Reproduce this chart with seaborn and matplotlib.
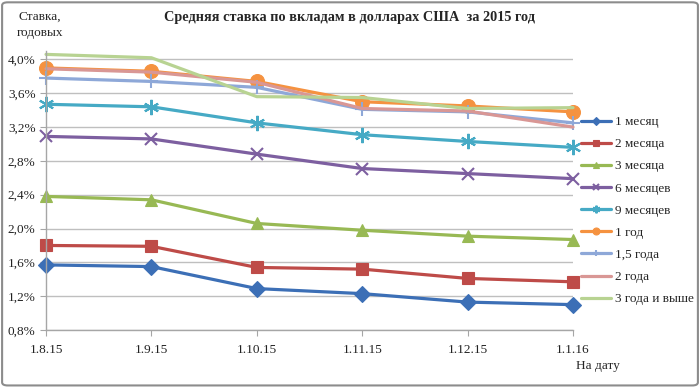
import numpy as np
import pandas as pd
import matplotlib
matplotlib.use('Agg')
import matplotlib.pyplot as plt
import seaborn as sns
from matplotlib.patches import FancyBboxPatch
from matplotlib.ticker import FuncFormatter

# Data (% per year)
dates = ['1.8.15', '1.9.15', '1.10.15', '1.11.15', '1.12.15', '1.1.16']
m1 = [1.57, 1.55, 1.29, 1.23, 1.13, 1.10]
m2 = [1.80, 1.79, 1.54, 1.52, 1.41, 1.37]
m3 = [2.38, 2.34, 2.06, 1.98, 1.91, 1.87]
m6 = [3.09, 3.06, 2.88, 2.71, 2.65, 2.59]
m9 = [3.47, 3.44, 3.25, 3.11, 3.03, 2.96]
y1 = [3.90, 3.86, 3.74, 3.50, 3.45, 3.38]
y15 = [3.78, 3.74, 3.67, 3.41, 3.38, 3.25]
y2 = [3.89, 3.85, 3.73, 3.42, 3.39, 3.20]
y3 = [4.06, 4.02, 3.56, 3.55, 3.42, 3.43]

series_names = ['1 месяц', '2 месяца', '3 месяца', '6 месяцев', '9 месяцев',
                '1 год', '1,5 года', '2 года', '3 года и выше']
series_vals = [m1, m2, m3, m6, m9, y1, y15, y2, y3]

colors = ['#3C6FB6', '#BE4B48', '#98B954', '#7D5FA0', '#46AAC5',
          '#F59240', '#8EA8D8', '#D99795', '#B8D392']
markers = ['D', 's', '^', 'x', (6, 2, 0), 'o', '+', None, None]
msizes = [8, 9, 9, 9, 11, 10, 10, 0, 0]

sns.set_style('white')
plt.rcParams['font.family'] = ['Liberation Serif', 'DejaVu Serif']

fig = plt.figure(figsize=(7, 3.87), dpi=100)
ax = fig.add_axes([46 / 700, 1 - 330 / 387, (573 - 46) / 700, (330 - 51) / 387])

xpos = np.arange(len(dates))
for name, vals, c, mk, ms in zip(series_names, series_vals, colors, markers, msizes):
    df = pd.DataFrame({'x': xpos, 'y': vals})
    kw = dict(marker=mk, markersize=ms, markeredgewidth=1.5 if mk in ('x', '+', (6, 2, 0)) else 0.8,
              markeredgecolor=c) if mk is not None else {}
    sns.lineplot(data=df, x='x', y='y', ax=ax, color=c, linewidth=2.3, label=name, **kw)

for ln in ax.lines:
    ln.set_clip_on(False)

ax.set_xlim(0, len(dates) - 1)
ax.set_ylim(0.8, 4.1)
ax.set_yticks([0.8, 1.2, 1.6, 2.0, 2.4, 2.8, 3.2, 3.6, 4.0])
ax.yaxis.set_major_formatter(FuncFormatter(lambda v, p: f'{v:.1f}%'.replace('.', ',')))
ax.set_xticks(xpos)
ax.set_xticklabels(dates)
ax.set_xlabel('')
ax.set_ylabel('')
ax.grid(axis='y', color='#BFBFBF', linewidth=1)
ax.set_axisbelow(True)
for s in ['top', 'right']:
    ax.spines[s].set_visible(False)
for s in ['left', 'bottom']:
    ax.spines[s].set_color('#A6A6A6')
    ax.spines[s].set_linewidth(1)
ax.tick_params(axis='both', labelsize=9.5, colors='#222222', length=4, direction='out',
               color='#A6A6A6', left=True, bottom=True)
ax.tick_params(axis='x', pad=6)

leg = ax.legend(loc='upper left', bbox_to_anchor=(1.005, 0.786), frameon=False,
                fontsize=9.5, handlelength=2.3, handletextpad=0.25, labelspacing=0.75,
                borderaxespad=0.0, markerscale=0.5)

fig.text(349 / 700, 1 - 18 / 387, 'Средняя ставка по вкладам в долларах США  за 2015 год',
         ha='center', va='center', fontsize=10.3, fontweight='bold')
fig.text(40 / 700, 1 - 25 / 387, 'Ставка,\nгодовых', ha='center', va='center', fontsize=9.5,
         linespacing=1.5)
fig.text(598 / 700, 1 - 366 / 387, 'На дату', ha='center', va='center', fontsize=9.5)

border = FancyBboxPatch((0.003, 0.004), 0.994, 0.99, boxstyle='round,pad=0,rounding_size=0.008',
                        transform=fig.transFigure, fill=False, edgecolor='#8C8C8C', linewidth=1.5)
fig.patches.append(border)

fig.savefig('out.png', dpi=100)
